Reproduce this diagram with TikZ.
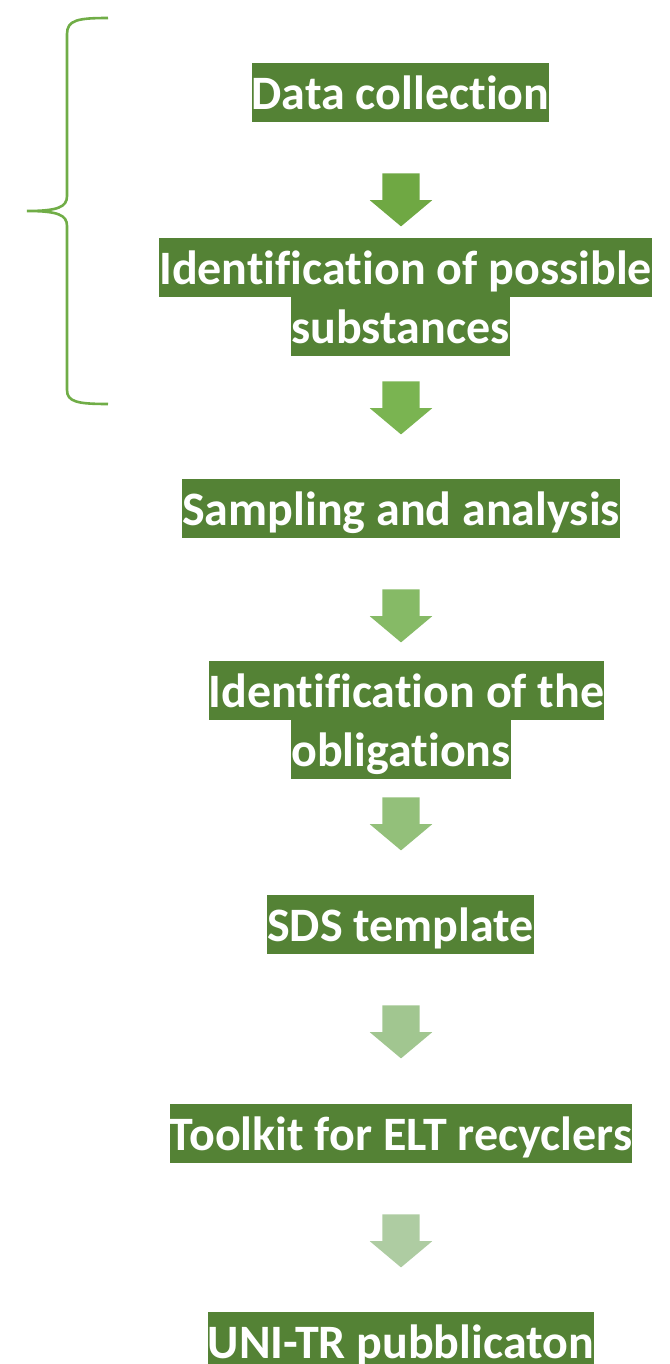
\documentclass[tikz,border=0pt]{standalone}
\usepackage{fontspec}
\setmainfont{Carlito}[RawFeature={-liga;-clig;-calt;-dlig}]
\usetikzlibrary{positioning,shapes.arrows}
\definecolor{boxgreen}{HTML}{548235}
\definecolor{bracegreen}{HTML}{70AD47}
\definecolor{arrA}{HTML}{6FA843}
\definecolor{arrB}{HTML}{7AB451}
\definecolor{arrC}{HTML}{86BA66}
\definecolor{arrD}{HTML}{93C07A}
\definecolor{arrE}{HTML}{A1C690}
\definecolor{arrF}{HTML}{AECCA2}
\begin{document}
\begin{tikzpicture}[x=1pt,y=-1pt,
  stepbox/.style={fill=boxgreen,text=white,inner xsep=0pt,inner ysep=0pt,
    font=\fontsize{48}{58}\selectfont\bfseries,text height=46.5pt,text depth=12pt},
  blockarrow/.style={single arrow,shape border rotate=270,draw=none,inner sep=18.5pt,
    minimum height=52pt,single arrow head extend=12.5pt,
    single arrow tip angle=100}]
  \useasboundingbox (0,0) rectangle (669,1364);
  % steps
  \node[stepbox] (data) at (400.5,92.5) {Data collection};
  \node[stepbox] (ident1) at (405.5,267.5) {Identification of possible\ };
  \node[stepbox,below=0pt of ident1,xshift=-5pt] (ident2) {substances};
  \node[stepbox] (sampling) at (401,508.5) {Sampling and analysis};
  \node[stepbox] (oblig1) at (406.5,690.5) {Identification of the\ };
  \node[stepbox,below=0pt of oblig1,xshift=-5.5pt] (oblig2) {obligations};
  \node[stepbox] (sds) at (400.5,924.5) {SDS template};
  \node[stepbox] (toolkit) at (401,1133.5) {Toolkit for ELT recyclers};
  \node[stepbox] (uni) at (401,1341.5) {UNI-TR pubblicaton};
  % arrows between the steps
  \foreach \i/\y/\c in {1/192/arrA, 2/400/arrB, 3/608/arrC, 4/816/arrD, 5/1024/arrE, 6/1233/arrF}
    \node[blockarrow,fill=\c] (arr\i) at (401,\y) {};
  % brace
  \draw[bracegreen,line width=2.6pt]
    (108,18) .. controls (78,18) and (67,20) .. (67,34) -- (67,196)
    .. controls (67,207) and (58,211) .. (27,211)
    .. controls (58,211) and (67,215) .. (67,226) -- (67,390)
    .. controls (67,402) and (78,404) .. (108,404);
\end{tikzpicture}
\end{document}
